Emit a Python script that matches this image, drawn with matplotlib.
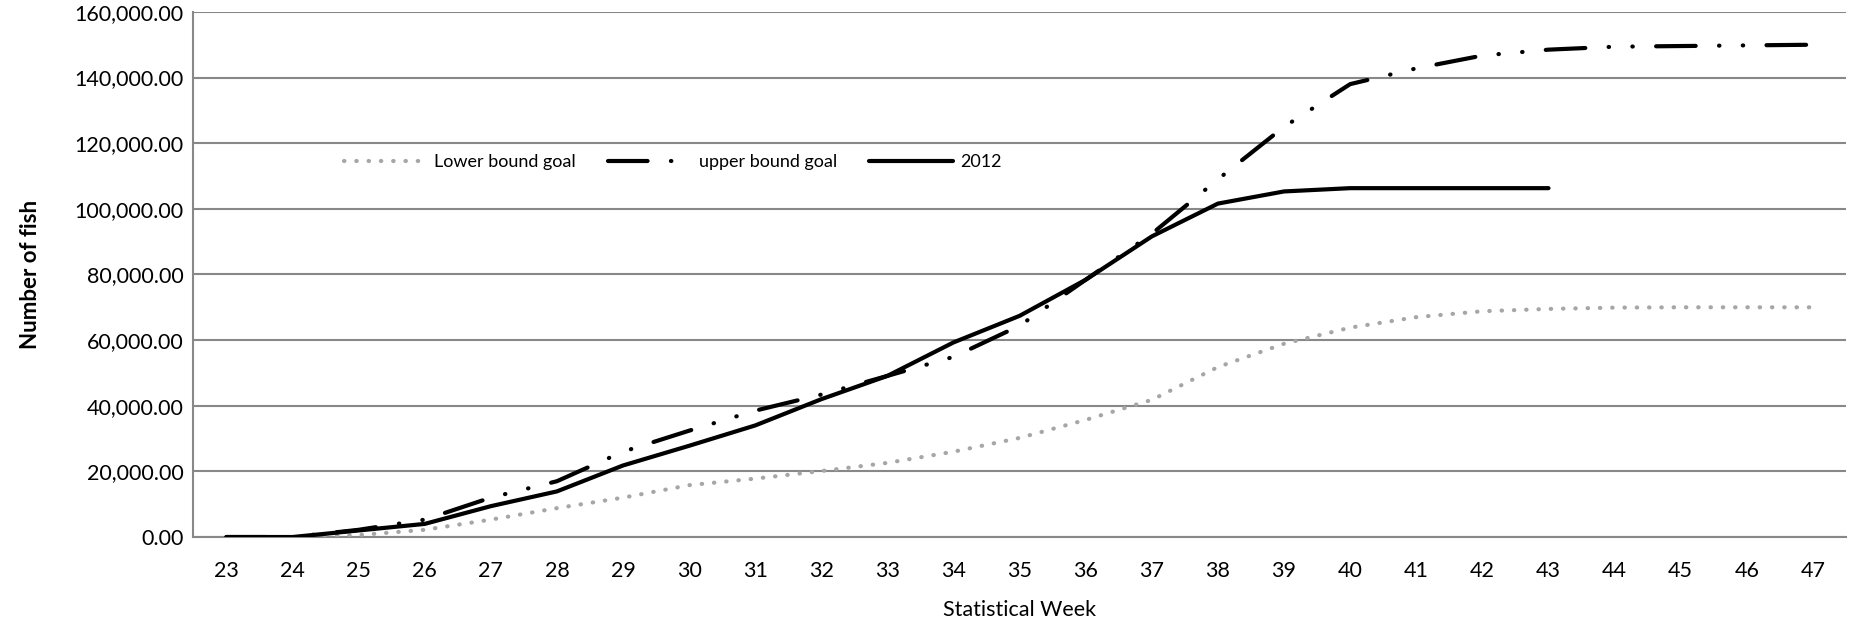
import matplotlib
matplotlib.use("Agg")
import matplotlib.pyplot as plt
from matplotlib.ticker import FuncFormatter

weeks = list(range(23, 48))
lower_goal = [0, 0, 600, 2200, 5300, 8800, 12000, 15800, 17800, 20100, 22600, 26000,
              30200, 35700, 41800, 51800, 58900, 63800, 67000, 68800, 69500, 69900,
              70000, 70000, 70000]
upper_goal = [0, 0, 2200, 5300, 12000, 17000, 26000, 32400, 38500, 43400, 49100, 54900,
              64400, 78400, 92400, 109000, 125000, 138000, 142800, 146700, 148500,
              149400, 149600, 149800, 150000]
weeks_2012 = list(range(23, 44))
y2012 = [0, 0, 2000, 4000, 9400, 13900, 21800, 27800, 34000, 42000, 49100, 59300,
         67400, 78400, 91600, 101600, 105300, 106300, 106300, 106300, 106300]
labels = ["Lower bound goal", "upper bound goal", "2012"]

plt.rcParams['font.family'] = ['Lato', 'DejaVu Sans']

fig = plt.figure(figsize=(18.68, 6.27), dpi=100)
ax = fig.add_axes([0.1035, 0.1435, 0.8847, 0.8375])

ax.plot(weeks, lower_goal, color="#A6A6A6", lw=3.0, linestyle=(0, (0.1, 2.85)),
        dash_capstyle="round", label=labels[0], zorder=3)
ax.plot(weeks, upper_goal, color="black", lw=3.0, linestyle=(0, (9.5, 5.6, 0.1, 5.6, 0.1, 5.6)),
        dash_capstyle="round", label=labels[1], zorder=4)
ax.plot(weeks_2012, y2012, color="black", lw=3.0, solid_capstyle="round",
        label=labels[2], zorder=5)

ax.set_xlim(22.5, 47.5)
ax.set_ylim(0, 160000)
ax.set_xticks(weeks)
ax.set_yticks(range(0, 160001, 20000))
ax.yaxis.set_major_formatter(FuncFormatter(lambda v, p: f"{v:,.2f}"))
ax.tick_params(axis="both", length=0, labelsize=15.5, colors="black")
ax.tick_params(axis="x", pad=17)
ax.tick_params(axis="y", pad=7)
ax.grid(axis="y", color="#888888", lw=1.5, zorder=0)
for s in ["top", "right"]:
    ax.spines[s].set_visible(False)
for s in ["left", "bottom"]:
    ax.spines[s].set_color("#888888")
    ax.spines[s].set_linewidth(1.5)

ax.set_xlabel("Statistical Week", fontsize=15.5, labelpad=14)
ax.set_ylabel("Number of fish", fontsize=16, fontweight="bold", labelpad=24)

ax.legend(loc="center", bbox_to_anchor=(0.29, 0.714), ncol=3, frameon=False,
          fontsize=13, handlelength=4.6, columnspacing=1.8, handletextpad=0.4)

fig.savefig("out.png", dpi=100, facecolor="white")
